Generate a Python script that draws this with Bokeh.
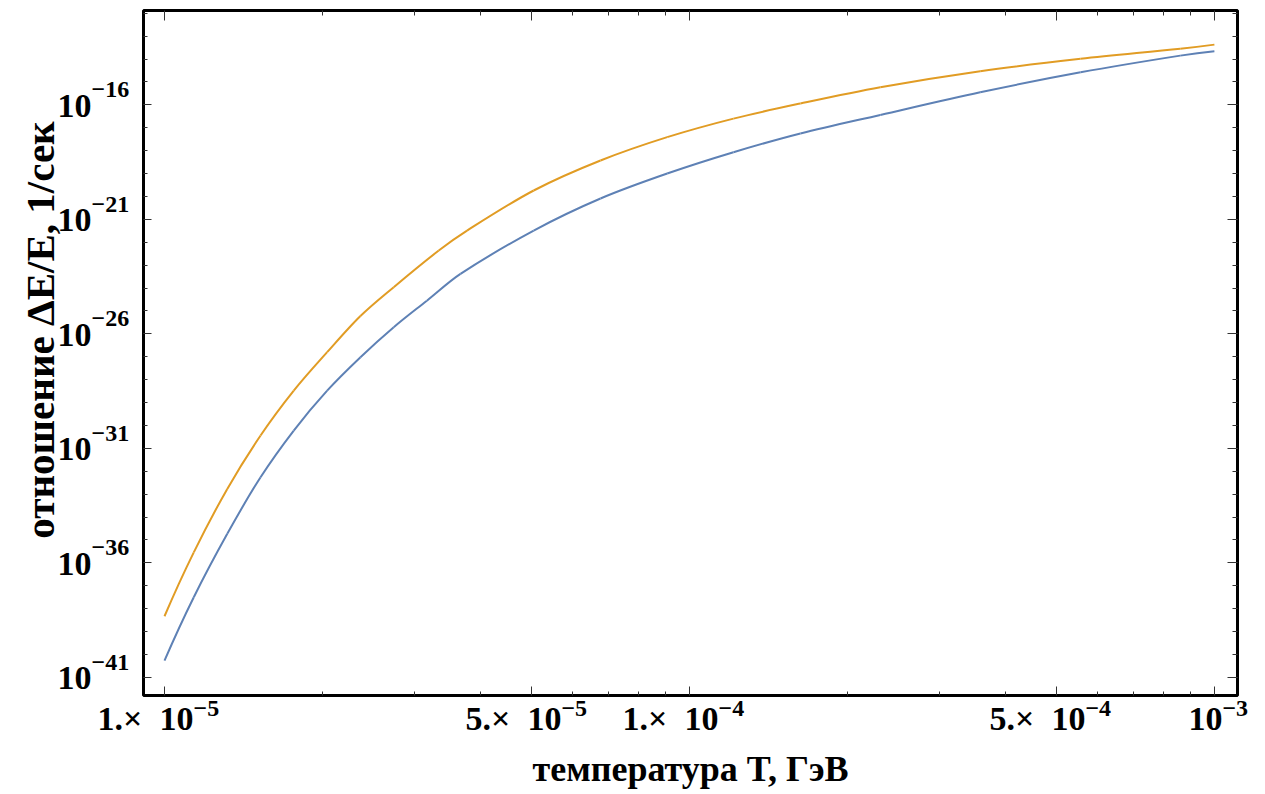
import math
from bokeh.plotting import figure
from bokeh.models import FixedTicker, LinearAxis, Range1d, CustomJSTickFormatter
from bokeh.core.properties import value
from bokeh.embed import file_html
from bokeh.resources import INLINE

# ---------------- data ----------------
# temperature T in GeV, ratio as log10(dE/E per second)
T_orange = [1.0e-5, 1.137e-5, 1.317e-5, 1.524e-5, 1.763e-5, 2.041e-5, 2.362e-5, 2.733e-5,
            3.33e-5, 3.77e-5, 5.05e-5, 6.77e-5, 9.07e-5, 1.213e-4, 1.627e-4,
            2.31e-4, 3.58e-4, 5.56e-4, 8.61e-4, 1.0e-3]
logR_orange = [-38.33, -35.54, -32.77, -30.44, -28.48, -26.80, -25.22, -23.96,
               -22.36, -21.49, -19.74, -18.43, -17.41, -16.60, -15.94,
               -15.23, -14.53, -13.99, -13.55, -13.37]

T_blue = [1.0e-5, 1.137e-5, 1.317e-5, 1.524e-5, 1.763e-5, 2.041e-5, 2.362e-5, 2.733e-5,
          3.161e-5, 3.663e-5, 5.05e-5, 6.77e-5, 9.07e-5, 1.213e-4, 1.627e-4, 2.31e-4,
          3.58e-4, 5.56e-4, 8.61e-4, 1.0e-3]
logR_blue = [-40.27, -37.50, -34.73, -32.26, -30.22, -28.48, -27.02, -25.71,
             -24.55, -23.38, -21.49, -20.09, -19.00, -18.07, -17.25, -16.44,
             -15.45, -14.58, -13.85, -13.66]

x_major = [1e-5, 5e-5, 1e-4, 5e-4, 1e-3]
x_minor = [2e-5, 3e-5, 4e-5, 6e-5, 7e-5, 8e-5, 9e-5,
           2e-4, 3e-4, 4e-4, 6e-4, 7e-4, 8e-4, 9e-4]
x_tick_base = ["1.\u00d7\u200210", "5.\u00d7\u200210", "1.\u00d7\u200210", "5.\u00d7\u200210", "10"]
x_tick_exp = ["\u22125", "\u22125", "\u22124", "\u22124", "\u22123"]

y_major = [-41, -36, -31, -26, -21, -16]          # decades (log10)
y_minor = list(range(-42, -11))
y_tick_base = ["10"] * 6
y_tick_exp = ["\u221241", "\u221236", "\u221231", "\u221226", "\u221221", "\u221216"]

x_title = "температура T, ГэВ"
y_title = "отношение ΔE/E, 1/сек"

# ---------------- layout (log-log drawn on log10 values) ----------------
lx0, lx1 = -5.04, -2.956
ly0, ly1 = -41.79, -11.88
FONT = value("Liberation Serif")
ORANGE = "#E19C24"
BLUE = "#5E81B5"

lT_orange = [math.log10(t) for t in T_orange]
lT_blue = [math.log10(t) for t in T_blue]

p = figure(width=1265, height=794,
           x_range=Range1d(lx0, lx1), y_range=Range1d(ly0, ly1),
           output_backend="svg", toolbar_location=None,
           min_border_left=143, min_border_right=28, min_border_top=10, min_border_bottom=99)
p.grid.visible = False
p.outline_line_color = "black"
p.outline_line_width = 3
p.outline_line_alpha = 1.0
p.background_fill_color = "white"
p.border_fill_color = "white"


def hermite_segments(xs, ys):
    """Smooth curve through the read points: one cubic Bezier per pair of points."""
    n = len(xs)
    m = [None] * n
    for i in range(1, n - 1):
        m[i] = (ys[i + 1] - ys[i - 1]) / (xs[i + 1] - xs[i - 1])
    c0 = (ys[1] - ys[0]) / (xs[1] - xs[0])
    c1 = (ys[-1] - ys[-2]) / (xs[-1] - xs[-2])
    m[0] = 2 * c0 - m[1]
    m[-1] = 2 * c1 - m[-2]
    seg = dict(x0=[], y0=[], x1=[], y1=[], cx0=[], cy0=[], cx1=[], cy1=[])
    for i in range(n - 1):
        h = xs[i + 1] - xs[i]
        seg["x0"].append(xs[i]); seg["y0"].append(ys[i])
        seg["x1"].append(xs[i + 1]); seg["y1"].append(ys[i + 1])
        seg["cx0"].append(xs[i] + h / 3); seg["cy0"].append(ys[i] + m[i] * h / 3)
        seg["cx1"].append(xs[i + 1] - h / 3); seg["cy1"].append(ys[i + 1] - m[i + 1] * h / 3)
    return seg


p.bezier(line_color=BLUE, line_width=2, **hermite_segments(lT_blue, logR_blue))
p.bezier(line_color=ORANGE, line_width=2, **hermite_segments(lT_orange, logR_orange))

blank = CustomJSTickFormatter(code="return ''")
lx_major = [math.log10(v) for v in x_major]
lx_minor = [math.log10(v) for v in x_minor]


def style_axis(ax, major, minor, maj_len, min_len):
    ax.ticker = FixedTicker(ticks=major, minor_ticks=minor)
    ax.formatter = blank
    ax.axis_line_color = None
    ax.major_tick_in = maj_len
    ax.major_tick_out = 0
    ax.minor_tick_in = min_len
    ax.minor_tick_out = 0
    ax.major_tick_line_color = "#333333"
    ax.minor_tick_line_color = "#333333"


style_axis(p.xaxis[0], lx_major, lx_minor, 9, 4)
style_axis(p.yaxis[0], y_major, y_minor, 8, 4)
top = LinearAxis()
style_axis(top, lx_major, lx_minor, 10, 5)
right = LinearAxis()
style_axis(right, y_major, y_minor, 10, 5)
p.add_layout(top, "above")
p.add_layout(right, "right")


def txt(x, y, text, size, align, baseline, xoff=0, yoff=0, angle=0.0):
    p.text(x=x, y=y, text=text, x_offset=xoff, y_offset=yoff, angle=angle,
           text_align=align, text_baseline=baseline, text_font=FONT,
           text_font_style="bold", text_font_size=value(size), text_color="black",
           level="overlay")


# x tick labels: base + superscript exponent
x_anchor = [29, 30, 29, 29, 8]
n = len(x_major)
txt(lx_major, [ly0] * n, x_tick_base, "34px", "right", "alphabetic", xoff=x_anchor, yoff=23)
txt(lx_major, [ly0] * n, x_tick_exp, "24px", "left", "alphabetic", xoff=x_anchor, yoff=13)

# y tick labels
m = len(y_major)
txt([lx0] * m, y_major, y_tick_base, "34px", "right", "alphabetic", xoff=-52, yoff=1)
txt([lx0] * m, y_major, y_tick_exp, "24px", "left", "alphabetic", xoff=-52, yoff=-15)

# axis titles
txt([(lx0 + lx1) / 2], [ly0], [x_title], "36px", "center", "alphabetic", yoff=73)
txt([lx0], [(ly0 + ly1) / 2], [y_title], "41px", "center", "middle",
    xoff=-104, yoff=-23, angle=math.pi / 2)

open("out.html", "w").write(file_html(p, INLINE))
